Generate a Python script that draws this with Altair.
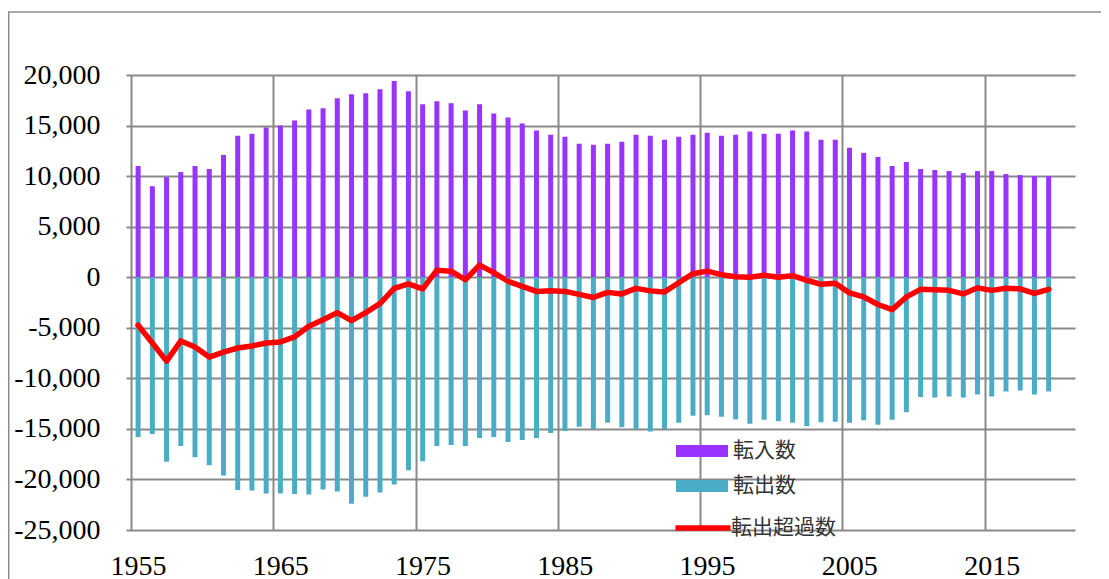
import altair as alt
import pandas as pd

years = list(range(1955, 2020))

in_vals = [11000, 9000, 9900, 10400, 11000, 10700, 12100, 14000, 14200, 14800,
           15000, 15500, 16600, 16700, 17700, 18100, 18200, 18600, 19400, 18400,
           17100, 17400, 17200, 16500, 17100, 16200, 15800, 15200, 14500, 14100,
           13900, 13200, 13100, 13200, 13400, 14100, 14000, 13600, 13900, 14100,
           14300, 14000, 14100, 14400, 14200, 14200, 14500, 14400, 13600, 13600,
           12800, 12300, 11900, 11000, 11400, 10700, 10600, 10500, 10300, 10500,
           10500, 10200, 10100, 10000, 10000]

out_vals = [-15800, -15500, -18250, -16700, -17800, -18600, -19600, -21050, -21100, -21400,
            -21400, -21450, -21500, -21000, -21200, -22400, -21700, -21300, -20500, -19100,
            -18200, -16700, -16600, -16700, -15900, -15800, -16300, -16100, -15900, -15400,
            -15200, -14800, -15000, -14400, -14850, -15000, -15250, -15000, -14400, -13700,
            -13650, -13800, -14050, -14500, -14100, -14250, -14400, -14750, -14350, -14300,
            -14400, -14150, -14600, -14100, -13350, -11850, -11900, -11800, -11900, -11600,
            -11800, -11300, -11200, -11600, -11300]

net_vals = [-4750, -6500, -8300, -6300, -6900, -7900, -7400, -7000, -6800, -6500,
            -6400, -5900, -4850, -4200, -3500, -4300, -3500, -2600, -1100, -650,
            -1150, 700, 600, -250, 1200, 450, -400, -900, -1400, -1350,
            -1400, -1700, -2000, -1500, -1650, -1100, -1350, -1450, -550, 350,
            600, 250, 50, 0, 200, 0, 150, -300, -700, -600,
            -1550, -1950, -2700, -3200, -1950, -1200, -1250, -1300, -1650, -1050,
            -1300, -1100, -1150, -1600, -1200]

bar_names = ["転入数", "転出数"]
bar_colors = ["#9933FF", "#4BACC6"]
line_name = "転出超過数"
line_color = "#FF0000"

x_label_years = list(range(1955, 2016, 10))
y_ticks = list(range(-25000, 20001, 5000))

bars_df = pd.DataFrame({
    "year": years * 2,
    "series": [bar_names[0]] * len(years) + [bar_names[1]] * len(years),
    "value": in_vals + out_vals,
})
line_df = pd.DataFrame({"year": years, "series": [line_name] * len(years), "value": net_vals})

GRID = "#898989"
SERIF = "'Liberation Serif', 'Times New Roman', 'DejaVu Serif', serif"
JP = "'Noto Sans CJK JP', sans-serif"

x_axis = alt.Axis(values=x_label_years, format="d", grid=True, ticks=False, domain=False,
                  labelOffset=7, labelPadding=22, labelFont=SERIF, labelFontSize=28,
                  labelColor="black", gridColor=GRID, gridWidth=2, title=None)
y_axis = alt.Axis(values=y_ticks, grid=True, ticks=False, domain=False,
                  labelExpr="(datum.value < 0 ? '-' : '') + format(abs(datum.value), ',')",
                  labelPadding=26, labelFont=SERIF, labelFontSize=28, labelColor="black",
                  gridColor=GRID, gridWidth=2, title=None)
x_scale = alt.Scale(domain=[1955, 2021], nice=False, zero=False)
y_scale = alt.Scale(domain=[-25000, 20000], nice=False)

x_enc = alt.X("xc:Q", scale=x_scale, axis=x_axis)
y_enc = alt.Y("value:Q", stack=None, scale=y_scale, axis=y_axis)

bars = alt.Chart(bars_df).transform_calculate(xc="datum.year + 0.5").mark_bar(size=5).encode(
    x=x_enc,
    y=y_enc,
    fill=alt.Fill("series:N", scale=alt.Scale(domain=bar_names, range=bar_colors),
                  legend=alt.Legend(title=None, orient="none", legendX=563.5, legendY=363.5,
                                    symbolType="M-2.08,-0.48H2.08V0.48H-2.08Z", symbolSize=625,
                                    symbolStrokeWidth=0, labelOffset=18.5, rowPadding=12,
                                    padding=0, labelFont=JP, labelFontSize=21,
                                    labelColor="#333333")),
)

line = alt.Chart(line_df).transform_calculate(xc="datum.year + 0.5").mark_line(
    strokeWidth=5.5, strokeJoin="round", strokeCap="round").encode(
    x=x_enc,
    y=y_enc,
    stroke=alt.Stroke("series:N", scale=alt.Scale(domain=[line_name], range=[line_color]),
                      legend=alt.Legend(title=None, orient="none", legendX=561.5, legendY=437.5,
                                        symbolType="M-2.2,0H2.2", symbolSize=625,
                                        symbolStrokeWidth=5.5, labelOffset=12.5, padding=0,
                                        labelFont=JP, labelFontSize=21,
                                        labelColor="#333333")),
)

border = alt.Chart(pd.DataFrame({"k": [0]})).mark_rect(
    filled=False, stroke="#8c8c8c", strokeWidth=1.5).encode(
    x=alt.value(-117.25), x2=alt.value(1200), y=alt.value(-63), y2=alt.value(700))

chart = alt.layer(border, bars, line).resolve_scale(fill="independent", stroke="independent").properties(
    width=949, height=455,
    padding={"left": 118, "top": 67, "right": 26, "bottom": 49},
    autosize=alt.AutoSizeParams(type="none"),
).configure_view(strokeWidth=0).configure_axis(labelFont=SERIF)

chart.save("out.html", embed_options={"renderer": "svg", "actions": False})
